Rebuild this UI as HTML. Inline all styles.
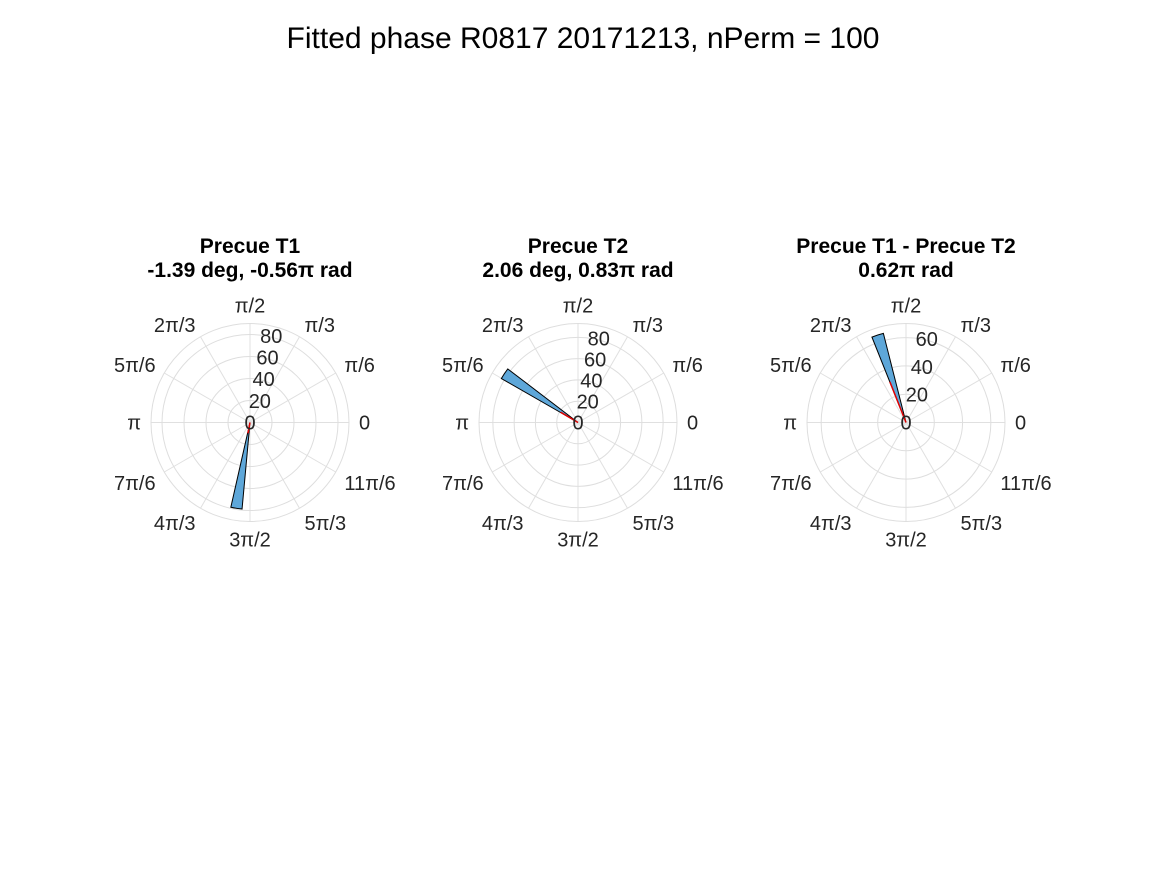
<!DOCTYPE html>
<html><head><meta charset="utf-8"><style>
body{margin:0;background:#fff;}
svg{display:block;font-family:"Liberation Sans",sans-serif;}
</style></head><body>
<svg id="fig" width="1167" height="875" viewBox="0 0 1167 875">
<text x="583" y="48" text-anchor="middle" font-size="30" fill="#000">Fitted phase R0817 20171213, nPerm = 100</text>
</svg>
<script>
// data
const panelTitles = ["Precue T1", "Precue T2", "Precue T1 - Precue T2"];
const panelSubtitles = ["-1.39 deg, -0.56π rad", "2.06 deg, 0.83π rad", "0.62π rad"];
const rMaxes = [90, 93, 70];
const rTicks = [[0,20,40,60,80],[0,20,40,60,80],[0,20,40,60]];
const barAnglesDeg = [261, 146.4, 108];
const barValues = [79, 83, 65];
const barWidthDeg = 7.5;
const meanAnglesDeg = [259.2, 149.4, 111.6];
const meanLengths = [10, 19, 31];
const thetaLabels = ["0","π/6","π/3","π/2","2π/3","5π/6","π","7π/6","4π/3","3π/2","5π/3","11π/6"];

const NS = "http://www.w3.org/2000/svg";
const svg = document.getElementById('fig');
const centersX = [250, 578, 906];
const cy = 422.5, R = 99;
function mk(tag, attrs, parent){const e=document.createElementNS(NS,tag);for(const k in attrs)e.setAttribute(k,attrs[k]);(parent||svg).appendChild(e);return e;}
function pt(cx, r, deg){const a=deg*Math.PI/180;return [cx+r*Math.cos(a), cy-r*Math.sin(a)];}

for(let p=0;p<3;p++){
  const cx=centersX[p], rmax=rMaxes[p];
  const rs = v => v/rmax*R;
  const g=mk('g',{});
  
  
  const t1=mk('text',{x:cx,y:253,'text-anchor':'middle','font-size':21,'font-weight':'bold'},g);
  t1.textContent=panelTitles[p];
  
  
  const t2=mk('text',{x:cx,y:277,'text-anchor':'middle','font-size':21,'font-weight':'bold'},g);
  t2.textContent=panelSubtitles[p];
  
  
  for(let k=0;k<12;k++){
    const [x,y]=pt(cx,R,k*30);
    const l=mk('line',{x1:cx,y1:cy,x2:x,y2:y,stroke:'#e0e0e0','stroke-width':1},g);
    
    
  }
  rTicks[p].concat([rmax]).forEach(v=>{
    if(v===0)return;
    const c=mk('circle',{cx:cx,cy:cy,r:rs(v),fill:'none',stroke:'#dedede','stroke-width':1},g);
    
    
  });
  const a0=barAnglesDeg[p]-barWidthDeg/2, a1=barAnglesDeg[p]+barWidthDeg/2;
  const [x0,y0]=pt(cx,rs(barValues[p]),a0), [x1,y1]=pt(cx,rs(barValues[p]),a1);
  const bar=mk('path',{d:`M${cx},${cy}L${x0},${y0}A${rs(barValues[p])},${rs(barValues[p])} 0 0 0 ${x1},${y1}Z`,fill:'#5ea7d9',stroke:'#000','stroke-width':1},g);
  
  
  const [mx,my]=pt(cx,rs(meanLengths[p]),meanAnglesDeg[p]);
  const ml=mk('line',{x1:cx,y1:cy,x2:mx,y2:my,stroke:'#e00000','stroke-width':1.5},g);
  
  
  rTicks[p].forEach(v=>{
    const r=rs(v);
    const tx=mk('text',{x:cx+r*Math.cos(80*Math.PI/180)+(v===0?0:6),y:cy-r*Math.sin(80*Math.PI/180)+7,'text-anchor':'middle','font-size':20,fill:'#262626'},g);
    tx.textContent=v;
    
    
  });
  thetaLabels.forEach((lab,k)=>{
    const deg=k*30, a=deg*Math.PI/180, c=Math.cos(a), s=Math.sin(a);
    const [x,y]=pt(cx,109,deg);
    const anchor = c>0.1?'start':(c<-0.1?'end':'middle');
    let yy = y+7;
    if(s>0.1) yy = y - 1 + (s<0.9?5:0);
    if(s<-0.1) yy = y + 15 - (s>-0.9?2:0);
    const tx=mk('text',{x:x,y:yy,'text-anchor':anchor,'font-size':20,fill:'#262626'},g);
    tx.textContent=lab;
    
    
  });
}
</script>
</body></html>
